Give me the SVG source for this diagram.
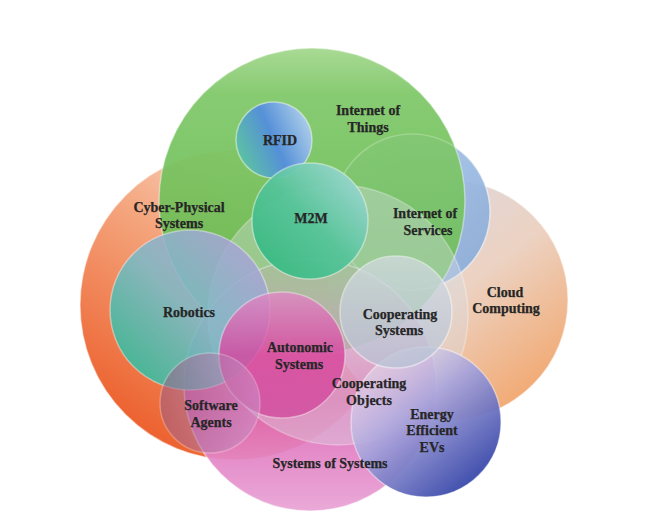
<svg xmlns="http://www.w3.org/2000/svg" width="658" height="521" viewBox="0 0 658 521">
<style>
  .rim { stroke: #ffffff; stroke-opacity: 0.45; stroke-width: 1.5; }
  .lbl { font-family: "Liberation Serif", "Times New Roman", serif; font-weight: bold; font-size: 14px; fill: #262626; stroke: #262626; stroke-width: 0.25; text-anchor: middle; }
</style>
<defs>
  <linearGradient id="gCps" x1="0.8" y1="0.05" x2="0.2" y2="0.95">
    <stop offset="0" stop-color="#fbe6d8"/>
    <stop offset="0.45" stop-color="#f4a47c"/>
    <stop offset="1" stop-color="#ec5d2a"/>
  </linearGradient>
  <linearGradient id="gCloud" x1="0.15" y1="0.1" x2="0.8" y2="0.95">
    <stop offset="0" stop-color="#dcd9e2"/>
    <stop offset="0.5" stop-color="#ecd2c2"/>
    <stop offset="1" stop-color="#f2a870"/>
  </linearGradient>
  <linearGradient id="gIos" x1="0" y1="0" x2="1" y2="1">
    <stop offset="0" stop-color="#a9c6ea"/>
    <stop offset="1" stop-color="#7ea4d6"/>
  </linearGradient>
  <linearGradient id="gIot" x1="0" y1="0" x2="0" y2="1">
    <stop offset="0" stop-color="#a2d78c"/>
    <stop offset="0.15" stop-color="#7dc766"/>
    <stop offset="1" stop-color="#60b84a"/>
  </linearGradient>
  <linearGradient id="gSos" x1="0" y1="0" x2="0" y2="1">
    <stop offset="0" stop-color="#e07cc0" stop-opacity="0.15"/>
    <stop offset="0.55" stop-color="#db5cb2" stop-opacity="0.85"/>
    <stop offset="1" stop-color="#eaaad8" stop-opacity="1"/>
  </linearGradient>
  <linearGradient id="gRob" x1="0.1" y1="0.9" x2="0.9" y2="0.1">
    <stop offset="0" stop-color="#2cc09e"/>
    <stop offset="0.5" stop-color="#7dbac8"/>
    <stop offset="1" stop-color="#aea2d8"/>
  </linearGradient>
  <linearGradient id="gAuto" x1="0" y1="0" x2="0" y2="1">
    <stop offset="0" stop-color="#e08ac6"/>
    <stop offset="0.5" stop-color="#d8449e"/>
    <stop offset="1" stop-color="#d24c9e"/>
  </linearGradient>
  <linearGradient id="gSoft" x1="0" y1="0.5" x2="1" y2="0.5">
    <stop offset="0" stop-color="#9a5a84"/>
    <stop offset="1" stop-color="#cc94cc"/>
  </linearGradient>
  <linearGradient id="gRfid" x1="0.05" y1="0.7" x2="0.95" y2="0.3">
    <stop offset="0" stop-color="#5cc0a4"/>
    <stop offset="0.5" stop-color="#5590d8"/>
    <stop offset="1" stop-color="#a8cae8"/>
  </linearGradient>
  <linearGradient id="gM2m" x1="0.1" y1="0.9" x2="0.9" y2="0.1">
    <stop offset="0" stop-color="#38ba82"/>
    <stop offset="0.5" stop-color="#56c49a"/>
    <stop offset="1" stop-color="#9cd7d2"/>
  </linearGradient>
  <linearGradient id="gCsys" x1="0" y1="0" x2="0" y2="1">
    <stop offset="0" stop-color="#d4dbe2"/>
    <stop offset="1" stop-color="#b6c2d4"/>
  </linearGradient>
  <linearGradient id="gEvs" x1="0.15" y1="0.1" x2="0.85" y2="0.95">
    <stop offset="0" stop-color="#e8e2f0" stop-opacity="0.6"/>
    <stop offset="0.4" stop-color="#a8a4dc"/>
    <stop offset="1" stop-color="#2c3ea4"/>
  </linearGradient>
</defs>

<rect width="658" height="521" fill="#ffffff"/>

<g id="cyber-physical-systems"><circle class="rim" cx="235" cy="305" r="155" fill="url(#gCps)"/></g>
<g id="cloud-computing"><circle class="rim" cx="448" cy="300" r="120" fill="url(#gCloud)"/></g>
<g id="internet-of-services"><circle class="rim" cx="412" cy="212" r="78" fill="url(#gIos)" opacity="0.9"/></g>
<g id="internet-of-things"><circle class="rim" cx="312" cy="201" r="153" fill="url(#gIot)" opacity="0.92"/></g>
<g id="internet-of-services-outline"><circle cx="412" cy="212" r="78" fill="#ffffff" fill-opacity="0.06" stroke="#ffffff" stroke-opacity="0.22" stroke-width="1.5"/></g>
<g id="systems-of-systems"><circle class="rim" cx="310" cy="385" r="126" fill="url(#gSos)"/></g>
<g id="cooperating-objects"><circle cx="338" cy="315" r="130" fill="#d8dce4" fill-opacity="0.38" stroke="#ffffff" stroke-opacity="0.3" stroke-width="1.5"/></g>
<g id="robotics"><circle class="rim" cx="190" cy="310" r="80" fill="url(#gRob)" opacity="0.88"/></g>
<g id="autonomic-systems"><circle class="rim" cx="282" cy="355" r="63" fill="url(#gAuto)" opacity="0.8"/></g>
<g id="software-agents"><circle class="rim" cx="210" cy="403" r="50" fill="url(#gSoft)" opacity="0.55"/></g>
<g id="rfid"><circle class="rim" cx="274" cy="140" r="38" fill="url(#gRfid)"/></g>
<g id="m2m"><circle class="rim" cx="310" cy="221" r="58" fill="url(#gM2m)" opacity="0.95"/></g>
<g id="energy-efficient-evs"><circle class="rim" cx="426" cy="422" r="75" fill="url(#gEvs)" opacity="0.95"/></g>
<g id="cooperating-systems"><circle cx="396" cy="312" r="56" fill="url(#gCsys)" opacity="0.75" stroke="#ffffff" stroke-opacity="0.6" stroke-width="1.5"/></g>

<g id="connectors"></g>

<g id="labels">
  <text class="lbl" x="368" y="115">Internet of</text>
  <text class="lbl" x="368" y="132">Things</text>
  <text class="lbl" x="280" y="145">RFID</text>
  <text class="lbl" x="179" y="212">Cyber-Physical</text>
  <text class="lbl" x="179" y="228">Systems</text>
  <text class="lbl" x="311" y="223">M2M</text>
  <text class="lbl" x="425" y="218">Internet of</text>
  <text class="lbl" x="428" y="235">Services</text>
  <text class="lbl" x="189" y="317">Robotics</text>
  <text class="lbl" x="505" y="297">Cloud</text>
  <text class="lbl" x="506" y="313">Computing</text>
  <text class="lbl" x="400" y="319">Cooperating</text>
  <text class="lbl" x="399" y="335">Systems</text>
  <text class="lbl" x="300" y="352">Autonomic</text>
  <text class="lbl" x="299" y="369">Systems</text>
  <text class="lbl" x="211" y="410">Software</text>
  <text class="lbl" x="211" y="427">Agents</text>
  <text class="lbl" x="369" y="388">Cooperating</text>
  <text class="lbl" x="369" y="405">Objects</text>
  <text class="lbl" x="432" y="419">Energy</text>
  <text class="lbl" x="432" y="435">Efficient</text>
  <text class="lbl" x="432" y="452">EVs</text>
  <text class="lbl" x="330" y="468">Systems of Systems</text>
</g>
</svg>
